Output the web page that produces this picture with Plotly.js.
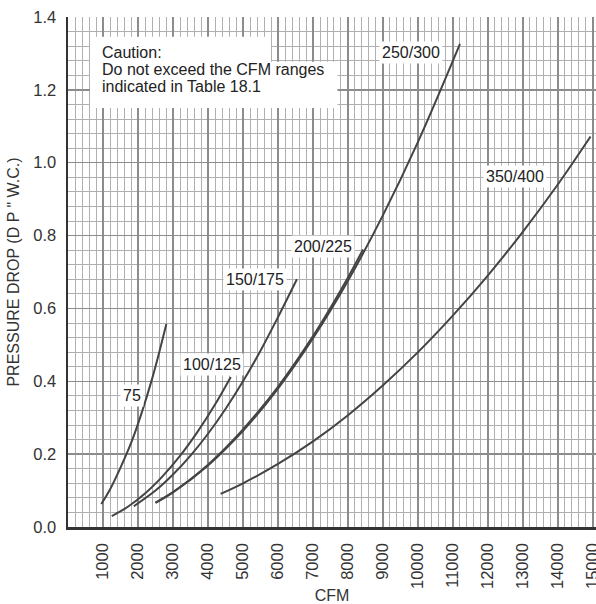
<!DOCTYPE html>
<html><head><meta charset="utf-8">
<script src="https://cdn.plot.ly/plotly-3.0.1.min.js"></script>
<style>html,body{margin:0;padding:0;background:#fff}#chart{width:596px;height:604px}</style>
</head><body><div id="chart"></div>
<script>
// Series (CFM vs pressure drop, inches W.C.)
const seriesNames = ["75", "100/125", "150/175", "200/225", "250/300", "350/400"];
const cfm75  = [950, 1200, 1500, 1800, 2100, 2400, 2600, 2810];
const dp75   = [0.063, 0.103, 0.163, 0.230, 0.312, 0.406, 0.477, 0.557];
const cfm100 = [1250, 1700, 2200, 2700, 3200, 3700, 4200, 4650];
const dp100  = [0.030, 0.055, 0.092, 0.139, 0.195, 0.261, 0.336, 0.412];
const cfm150 = [1880, 2500, 3000, 3500, 4000, 4500, 5000, 5500, 6000, 6540];
const dp150  = [0.057, 0.100, 0.144, 0.196, 0.256, 0.324, 0.400, 0.484, 0.576, 0.680];
const cfm200 = [2500, 3000, 3500, 4000, 4500, 5000, 5500, 6000, 6500, 7000, 7500, 8000, 8430];
const dp200  = [0.067, 0.096, 0.131, 0.171, 0.217, 0.268, 0.324, 0.385, 0.452, 0.524, 0.602, 0.685, 0.762];
const cfm250 = [2500, 3000, 4000, 5000, 6000, 7000, 8000, 9000, 10000, 11200];
const dp250  = [0.066, 0.095, 0.169, 0.264, 0.380, 0.518, 0.676, 0.856, 1.057, 1.326];
const cfm350 = [4360, 5000, 6000, 7000, 8000, 9000, 10000, 11000, 12000, 13000, 14000, 14930];
const dp350  = [0.091, 0.120, 0.173, 0.235, 0.307, 0.389, 0.480, 0.581, 0.691, 0.811, 0.941, 1.072];
const xTickVals = [1000,2000,3000,4000,5000,6000,7000,8000,9000,10000,11000,12000,13000,14000,15000];
const xTickText = ["1000","2000","3000","4000","5000","6000","7000","8000","9000","10000","11000","12000","13000","14000","15000"];
const cautionLines = ["Caution:", "Do not exceed the CFM ranges", "indicated in Table 18.1"];

const xs = [cfm75, cfm100, cfm150, cfm200, cfm250, cfm350];
const ys = [dp75, dp100, dp150, dp200, dp250, dp350];
const lineCol = '#444444';
const traces = xs.map((x, i) => ({
  x: x, y: ys[i], name: seriesNames[i], type: 'scatter', mode: 'lines',
  line: {color: lineCol, width: 2, shape: 'spline', smoothing: 1},
  hoverinfo: 'name+x+y'
}));

const FONT = 'Arial, "Liberation Sans", Helvetica, sans-serif';
// curve label placements (layout)
const labelPos = [
  [1828, 0.362], [4123, 0.446], [5357, 0.679], [7280, 0.769], [9799, 1.302], [12783, 0.962]
];
const annotations = seriesNames.map((t, i) => ({
  x: labelPos[i][0], y: labelPos[i][1], xref: 'x', yref: 'y', text: t, showarrow: false,
  font: {family: FONT, size: 16, color: '#222'}, bgcolor: '#ffffff', borderpad: 2
}));
const cautionY = [1.302, 1.256, 1.209];
cautionLines.forEach((t, i) => annotations.push({
  x: 920, y: cautionY[i], xref: 'x', yref: 'y', xanchor: 'left', yanchor: 'middle',
  text: t, showarrow: false, font: {family: FONT, size: 16, color: '#222'}
}));

const layout = {
  width: 596, height: 604,
  margin: {l: 68, r: 0, t: 17, b: 76.5},
  paper_bgcolor: '#ffffff', plot_bgcolor: '#ffffff',
  showlegend: false,
  font: {family: FONT, size: 16, color: '#333'},
  xaxis: {
    range: [0, 15086], tickmode: 'array', tickvals: xTickVals, ticktext: xTickText,
    tickangle: -90, ticks: '', ticklabelstandoff: 7, ticklabeloverflow: 'allow',
    tickfont: {family: FONT, size: 16.5, color: '#333'},
    showgrid: true, gridcolor: '#8c8c8c', gridwidth: 1.5,
    minor: {dtick: 200, tick0: 0, showgrid: true, gridcolor: '#b0b0b0', gridwidth: 1, ticks: ''},
    zeroline: false, showline: true, linecolor: '#333', linewidth: 2.5, mirror: false,
    title: {text: 'CFM', font: {family: FONT, size: 16, color: '#333'}, standoff: 8}
  },
  yaxis: {
    range: [0, 1.4], dtick: 0.2, tick0: 0, tickformat: '.1f', ticks: '', ticklabelstandoff: 6,
    tickfont: {family: FONT, size: 16.5, color: '#333'},
    showgrid: true, gridcolor: '#8c8c8c', gridwidth: 1.5,
    minor: {dtick: 0.04, tick0: 0, showgrid: true, gridcolor: '#b0b0b0', gridwidth: 1, ticks: ''},
    zeroline: false, showline: true, linecolor: '#333', linewidth: 2.5,
    title: {text: 'PRESSURE DROP (D P " W.C.)', font: {family: FONT, size: 16, color: '#333'}, standoff: 10}
  },
  shapes: [
    {type: 'rect', xref: 'x', yref: 'y', x0: 631, x1: 5800, y0: 1.15, y1: 1.346, fillcolor: '#fff', line: {width: 0}, layer: 'above'},
    {type: 'rect', xref: 'x', yref: 'y', x0: 631, x1: 7700, y0: 1.15, y1: 1.277, fillcolor: '#fff', line: {width: 0}, layer: 'above'}
  ],
  annotations: annotations
};
Plotly.newPlot('chart', traces, layout, {displayModeBar: false, staticPlot: true});
</script>
</body></html>
